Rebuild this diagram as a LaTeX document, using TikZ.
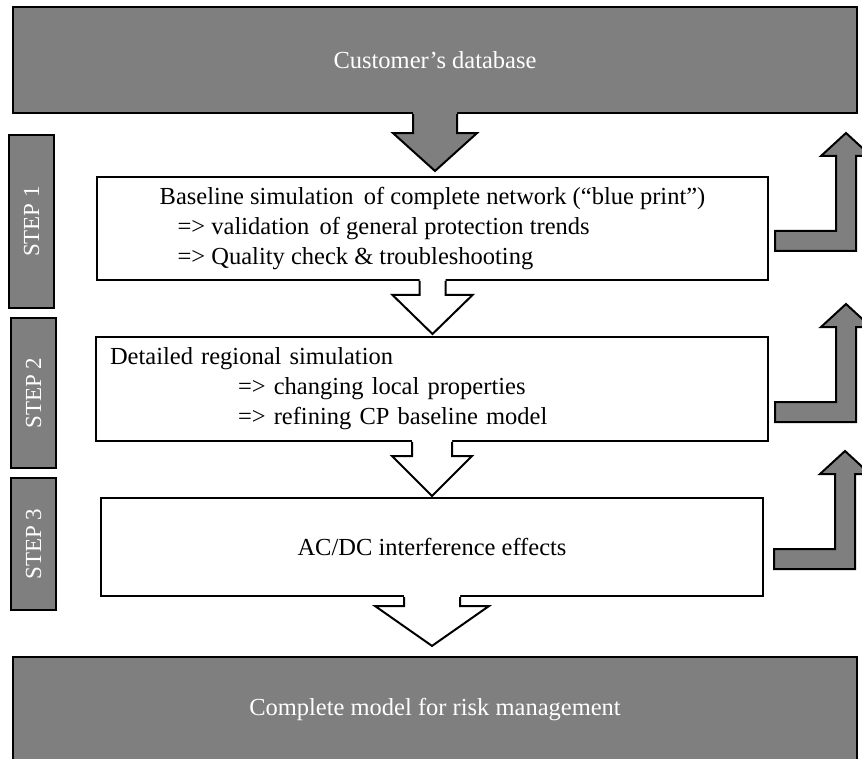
\documentclass[tikz,border=0pt]{standalone}
\usepackage{fontspec}
\setmainfont{Liberation Serif}
\usetikzlibrary{calc}
\definecolor{blockgray}{HTML}{7F7F7F}
% block arrow: fill, from, to, shaft half width, head half width, shaft length, gap at tip
\newcommand\blockdown[7]{%
  \fill[#1] ($(#2.south)+(-#4,-2)$) -- ($(#2.south)+(-#4,#6)$) -- ($(#2.south)+(-#5,#6)$)
    -- ($(#2.south |- #3.north)+(0,-#7)$) -- ($(#2.south)+(#5,#6)$) -- ($(#2.south)+(#4,#6)$)
    -- ($(#2.south)+(#4,-2)$) -- cycle;
  \draw[line width=2pt] ($(#2.south)+(-#4,0)$) -- ($(#2.south)+(-#4,#6)$) -- ($(#2.south)+(-#5,#6)$)
    -- ($(#2.south |- #3.north)+(0,-#7)$) -- ($(#2.south)+(#5,#6)$) -- ($(#2.south)+(#4,#6)$)
    -- ($(#2.south)+(#4,0)$);
}
\newcommand\returnarrow[1]{%
  \draw[line width=2pt, fill=blockgray] (#1) -- ++(61,0) -- ++(0,-75) -- ++(-15,0) -- ++(25,-23)
    -- ++(25,23) -- ++(-15,0) -- ++(0,95) -- ++(-81,0) -- cycle;
}

\begin{document}
\begin{tikzpicture}[x=1pt, y=-1pt, line join=miter,
    graybox/.style={draw, line width=2.2pt, fill=blockgray, text=white, inner sep=0pt,
      font=\fontsize{24.5}{30}\selectfont},
    whitebox/.style={draw, line width=2pt, fill=white, inner sep=0pt,
      font=\fontsize{24.5}{30}\selectfont},
    steplabel/.style={draw, line width=2pt, fill=blockgray, text=white, inner sep=0pt,
      rotate=90, minimum height=45, font=\fontsize{23}{28}\selectfont}]
  \useasboundingbox (0,0) rectangle (862,759);
  \clip (0,0) rectangle (862,759);

  \node[graybox, minimum width=844, minimum height=106] (db) at (435,60) {Customer’s database};
  \node[graybox, minimum width=844, minimum height=106] (risk) at (435,710) {Complete model for risk management};

  \node[steplabel, minimum width=173] (s1) at (31.5,221.5) {STEP 1};
  \node[steplabel, minimum width=150] (s2) at (33.5,393) {STEP 2};
  \node[steplabel, minimum width=132] (s3) at (33.5,544) {STEP 3};

  \node[whitebox, minimum width=671, minimum height=103, align=left] (b1) at (432.5,228.5)
    {Baseline simulation \,of complete network (“blue print”)\\
     \hspace*{18pt}=> validation \,of general protection trends\\
     \hspace*{18pt}=> Quality check \& troubleshooting};
  \node[whitebox, text width=644, inner xsep=14pt, minimum height=104, align=left] (b2) at (432,389)
    {Detailed regional simulation\\
     \hspace*{128pt}=> changing local properties\\
     \hspace*{128pt}=> refining CP baseline model};
  \node[whitebox, minimum width=662, minimum height=98] (b3) at (432,547) {AC/DC interference effects};

  \blockdown{blockgray}{db}{b1}{22}{42}{19}{5}
  \blockdown{white}{b1}{b2}{13}{40}{14}{2}
  \blockdown{white}{b2}{b3}{20}{40}{14}{1}
  \blockdown{white}{b3}{risk}{28}{57}{9}{10}

  \returnarrow{$(b1.east)+(6,2.5)$}
  \returnarrow{$(b2.east)+(6,13)$}
  \returnarrow{$(b3.east)+(10,2)$}
\end{tikzpicture}
\end{document}
